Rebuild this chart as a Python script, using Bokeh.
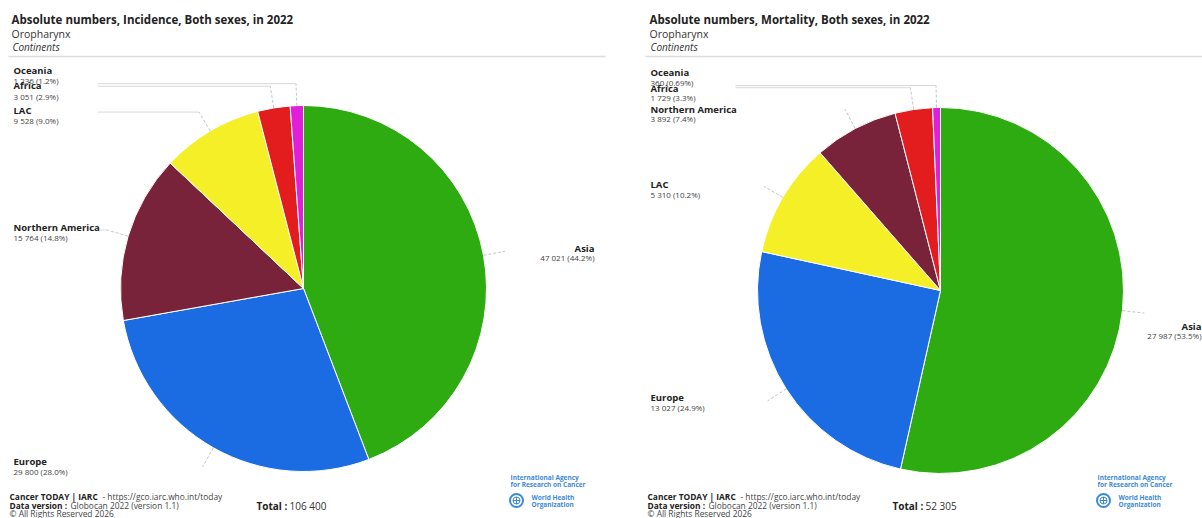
import numpy as np
from bokeh.plotting import figure
from bokeh.models import Range1d
from bokeh.embed import file_html
from bokeh.resources import INLINE
from bokeh.core.properties import value

# ---------------- data ----------------
inc_continents = ["Asia", "Europe", "Northern America", "LAC", "Africa", "Oceania"]
inc_values = [47021, 29800, 15764, 9528, 3051, 1236]

mort_continents = ["Asia", "Europe", "LAC", "Northern America", "Africa", "Oceania"]
mort_values = [27987, 13027, 5310, 3892, 1729, 360]

continent_colors = {
    "Asia": "#2fab12",
    "Europe": "#1b6be2",
    "Northern America": "#79233b",
    "LAC": "#f4ef26",
    "Africa": "#e31c1d",
    "Oceania": "#e11fd9",
}

inc_title = "Absolute numbers, Incidence, Both sexes, in 2022"
mort_title = "Absolute numbers, Mortality, Both sexes, in 2022"
subtitle = "Oropharynx"
subsubtitle = "Continents"

FONT = value("Open Sans")

p = figure(width=1202, height=518, x_range=Range1d(0, 1202), y_range=Range1d(-518, 0),
           toolbar_location=None, output_backend="svg", min_border=0,
           x_axis_location=None, y_axis_location=None, outline_line_color=None,
           background_fill_color="white", border_fill_color="white")
p.grid.visible = False


def fmt(v):
    return f"{v:,}".replace(",", " ")


def pct(v, tot):
    q = 100.0 * v / tot
    return f"{q:.1f}%" if q >= 1 else f"{q:.2f}%"


def txt(x, y, s, size, style="normal", color="#222222", align="left"):
    p.text(x=[x], y=[-y], text=[s], text_font=FONT, text_font_size=size,
           text_font_style=style, text_color=color, text_align=align,
           text_baseline="middle")


def pie(cx, cy, r, names, vals, specs, line_start):
    vals = np.asarray(vals, dtype=float)
    tot = vals.sum()
    frac = vals / tot
    cum = np.concatenate([[0.0], np.cumsum(frac)])
    start = np.pi / 2 - 2 * np.pi * cum[:-1]
    end = np.pi / 2 - 2 * np.pi * cum[1:]
    cols = [continent_colors[n] for n in names]
    p.wedge(x=cx, y=-cy, radius=r, start_angle=start, end_angle=end,
            direction="clock", fill_color=cols, line_color="white", line_width=1)
    mids = (cum[:-1] + cum[1:]) / 2
    for n, v, m in zip(names, vals, mids):
        dx = np.sin(2 * np.pi * m)
        dy = -np.cos(2 * np.pi * m)
        px, py = cx + r * dx, cy + r * dy
        ex, ey = cx + (r + 22) * dx, cy + (r + 22) * dy
        p.line([px, ex], [-py, -ey], line_color="#c4c4c4", line_width=1, line_dash="3 2")
        lx, ly_name, ly_val, align, horiz = specs[n]
        if horiz:
            p.line([ex, line_start], [-ey, -ey], line_color="#d8d8d8", line_width=1)
    for n, v in zip(names[::-1], vals[::-1]):
        lx, ly_name, ly_val, align, horiz = specs[n]
        txt(lx, ly_val, f"{fmt(int(v))} ({pct(v, tot)})", "8px", "normal", "#444444", align)
        txt(lx, ly_name, n, "9.5px", "bold", "#222222", align)
    return int(tot)


def header(x, title, line_x0, line_x1):
    txt(x, 19, title, "11.5px", "bold", "#222222")
    txt(x, 33, subtitle, "10.5px", "normal", "#333333")
    txt(x + 1, 46, subsubtitle, "10px", "italic", "#333333")
    p.line([line_x0, line_x1], [-56, -56], line_color="#dcdcdc", line_width=1.5)


def footer(x, total, tx, logo_x):
    txt(x, 496, "Cancer TODAY | IARC", "8.4px", "bold", "#222222")
    txt(x + 93, 496, "- https://gco.iarc.who.int/today", "8.4px", "normal", "#444444")
    txt(x, 504.5, "Data version :", "8.4px", "bold", "#222222")
    txt(x + 61, 504.5, "Globocan 2022 (version 1.1)", "8.4px", "normal", "#444444")
    txt(x, 513, "\u00a9 All Rights Reserved 2026", "8.4px", "normal", "#444444")
    txt(tx, 505, "Total", "10px", "bold", "#222222")
    txt(tx + 28, 505, ":", "10px", "bold", "#222222")
    txt(tx + 33, 505, fmt(total), "10px", "normal", "#333333")
    blue = "#3b8ad6"
    txt(logo_x, 477, "International Agency", "6.5px", "bold", blue)
    txt(logo_x, 484, "for Research on Cancer", "6.5px", "bold", blue)
    p.scatter([logo_x + 6], [-500], marker="circle", size=13, fill_color=None,
              line_color=blue, line_width=2)
    p.scatter([logo_x + 6], [-500], marker="circle_cross", size=7, fill_color=None,
              line_color=blue, line_width=1)
    txt(logo_x + 21, 497, "World Health", "6.5px", "bold", blue)
    txt(logo_x + 21, 503.5, "Organization", "6.5px", "bold", blue)


# ---------------- left: incidence ----------------
header(11, inc_title, 8, 605)
inc_specs = {
    "Asia": (594, 248, 257, "right", None),
    "Europe": (13, 461, 471, "left", None),
    "Northern America": (13, 227, 237, "left", True),
    "LAC": (13, 110, 120, "left", True),
    "Africa": (13, 85, 96, "left", True),
    "Oceania": (13, 70, 80, "left", True),
}
tot_inc = pie(303, 288, 183, inc_continents, inc_values, inc_specs, 97)
footer(9, tot_inc, 256, 510)

# ---------------- right: mortality ----------------
header(649, mort_title, 645, 1202)
mort_specs = {
    "Asia": (1201, 326, 335, "right", None),
    "Europe": (650, 397, 407, "left", None),
    "LAC": (650, 184, 194, "left", None),
    "Northern America": (650, 109, 118, "left", None),
    "Africa": (650, 88, 97, "left", True),
    "Oceania": (650, 72, 82, "left", True),
}
tot_mort = pie(940, 290, 183, mort_continents, mort_values, mort_specs, 735)
footer(647, tot_mort, 892, 1097)

open("out.html", "w").write(file_html(p, INLINE))
